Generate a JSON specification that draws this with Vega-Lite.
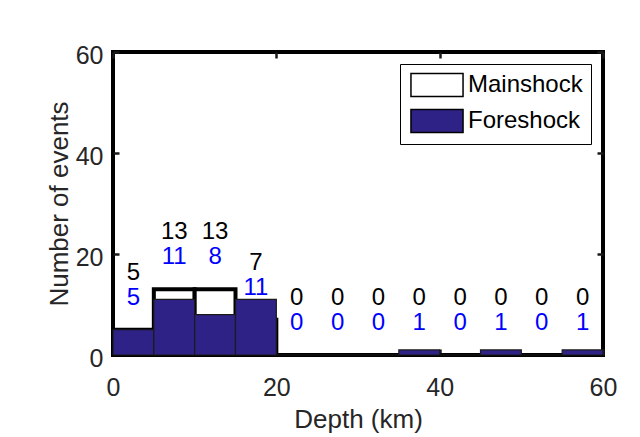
{
  "$schema": "https://vega.github.io/schema/vega-lite/v6.json",
  "width": 490,
  "height": 303,
  "autosize": {"type": "none"},
  "padding": {"left": 113, "top": 52, "right": 37, "bottom": 82},
  "background": "white",
  "config": {
    "font": "Liberation Sans",
    "view": {"stroke": "black", "strokeWidth": 4},
    "axis": {
      "grid": false,
      "domain": false,
      "labelFlush": false,
      "tickSize": -6,
      "tickWidth": 2.5,
      "tickColor": "#1a1a1a",
      "labelFontSize": 25,
      "labelColor": "#262626",
      "titleFontSize": 26,
      "titleFontWeight": "normal",
      "titleColor": "#262626"
    },
    "legend": {
      "labelFontSize": 24,
      "labelColor": "#000000",
      "padding": 8,
      "rowPadding": 6,
      "symbolOffset": 16,
      "labelOffset": 18
    }
  },
  "data": {
    "values": [
      {"lo": 0, "hi": 5, "depth": 2.5, "main": 5, "fore": 5},
      {"lo": 5, "hi": 10, "depth": 7.5, "main": 13, "fore": 11},
      {"lo": 10, "hi": 15, "depth": 12.5, "main": 13, "fore": 8},
      {"lo": 15, "hi": 20, "depth": 17.5, "main": 7, "fore": 11},
      {"lo": 20, "hi": 25, "depth": 22.5, "main": 0, "fore": 0},
      {"lo": 25, "hi": 30, "depth": 27.5, "main": 0, "fore": 0},
      {"lo": 30, "hi": 35, "depth": 32.5, "main": 0, "fore": 0},
      {"lo": 35, "hi": 40, "depth": 37.5, "main": 0, "fore": 1},
      {"lo": 40, "hi": 45, "depth": 42.5, "main": 0, "fore": 0},
      {"lo": 45, "hi": 50, "depth": 47.5, "main": 0, "fore": 1},
      {"lo": 50, "hi": 55, "depth": 52.5, "main": 0, "fore": 0},
      {"lo": 55, "hi": 60, "depth": 57.5, "main": 0, "fore": 1}
    ]
  },
  "resolve": {"axis": {"x": "independent", "y": "independent"}},
  "layer": [
    {
      "mark": {"type": "bar", "stroke": "black", "strokeWidth": 4, "clip": false},
      "encoding": {
        "x": {"field": "lo", "type": "quantitative", "scale": {"domain": [0, 60], "nice": false},
              "axis": {"values": [0, 20, 40, 60], "title": "Depth (km)", "labelPadding": 26, "titlePadding": 6}},
        "x2": {"field": "hi"},
        "y": {"field": "main", "type": "quantitative", "scale": {"domain": [0, 60], "nice": false},
              "axis": {"values": [0, 20, 40, 60], "title": "Number of events", "labelPadding": 16, "labelOffset": 3, "titlePadding": 3}},
        "y2": {"datum": 0},
        "fill": {
          "datum": "Mainshock",
          "type": "nominal",
          "scale": {"domain": ["Mainshock", "Foreshock"], "range": ["#ffffff", "#2f2287"]},
          "legend": {
            "title": null,
            "orient": "none",
            "legendX": 287,
            "legendY": 12,
            "symbolType": "M-2.17,-0.95H2.17V0.95H-2.17Z",
            "symbolSize": 576,
            "strokeColor": "black",
            "encoding": {
              "legend": {"update": {"strokeWidth": {"value": 3.5}}},
              "symbols": {"update": {
                "stroke": {"value": "black"},
                "strokeWidth": {"signal": "datum.value === 'Mainshock' ? 4 : 1"},
                "opacity": {"value": 1}
              }}
            }
          }
        }
      }
    },
    {
      "mark": {"type": "bar", "stroke": "#1a1a1a", "strokeWidth": 1.2},
      "encoding": {
        "x": {"field": "lo", "type": "quantitative", "axis": null},
        "x2": {"field": "hi"},
        "y": {"field": "fore", "type": "quantitative", "axis": null},
        "y2": {"datum": 0},
        "fill": {"datum": "Foreshock", "type": "nominal"}
      }
    },
    {
      "mark": {"type": "text", "fontSize": 24, "color": "#000000", "dy": -57, "baseline": "middle"},
      "encoding": {
        "x": {"field": "depth", "type": "quantitative",
              "axis": {"orient": "top", "values": [0, 20, 40, 60], "labels": false, "title": null}},
        "y": {"field": "main", "type": "quantitative",
              "axis": {"orient": "right", "values": [0, 20, 40, 60], "labels": false, "title": null}},
        "text": {"field": "main", "type": "quantitative"}
      }
    },
    {
      "mark": {"type": "text", "fontSize": 24, "color": "#0000ff", "dy": -32, "baseline": "middle"},
      "encoding": {
        "x": {"field": "depth", "type": "quantitative", "axis": null},
        "y": {"field": "main", "type": "quantitative", "axis": null},
        "text": {"field": "fore", "type": "quantitative"}
      }
    }
  ]
}
